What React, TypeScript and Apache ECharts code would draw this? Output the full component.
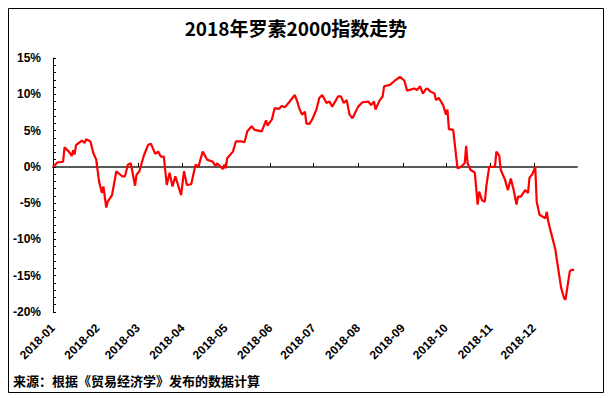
import React, { useEffect, useRef } from 'react';
import * as echarts from 'echarts';

const chartTitle = '2018年罗素2000指数走势';
const sourceNote = '来源：根据《贸易经济学》发布的数据计算';

const monthLabels = ['2018-01', '2018-02', '2018-03', '2018-04', '2018-05', '2018-06', '2018-07', '2018-08', '2018-09', '2018-10', '2018-11', '2018-12'];

const dates = [
  '2018-01-01', '2018-01-04', '2018-01-08', '2018-01-09', '2018-01-12', '2018-01-14', '2018-01-15', '2018-01-16', '2018-01-17', '2018-01-21',
  '2018-01-23', '2018-01-24', '2018-01-27', '2018-01-29', '2018-01-31', '2018-02-02', '2018-02-04', '2018-02-05', '2018-02-07', '2018-02-08',
  '2018-02-11', '2018-02-14', '2018-02-18', '2018-02-20', '2018-02-22', '2018-02-24', '2018-02-27', '2018-02-28', '2018-03-02', '2018-03-05',
  '2018-03-08', '2018-03-10', '2018-03-13', '2018-03-15', '2018-03-17', '2018-03-19', '2018-03-21', '2018-03-23', '2018-03-25', '2018-03-27',
  '2018-03-31', '2018-04-02', '2018-04-04', '2018-04-07', '2018-04-10', '2018-04-12', '2018-04-15', '2018-04-18', '2018-04-22', '2018-04-24',
  '2018-04-25', '2018-04-29', '2018-04-30', '2018-05-01', '2018-05-02', '2018-05-06', '2018-05-08', '2018-05-12', '2018-05-14', '2018-05-16',
  '2018-05-19', '2018-05-21', '2018-05-26', '2018-05-29', '2018-05-30', '2018-06-02', '2018-06-04', '2018-06-07', '2018-06-09', '2018-06-11',
  '2018-06-14', '2018-06-18', '2018-06-20', '2018-06-21', '2018-06-23', '2018-06-25', '2018-06-26', '2018-06-28', '2018-06-30', '2018-07-03',
  '2018-07-05', '2018-07-07', '2018-07-10', '2018-07-12', '2018-07-14', '2018-07-18', '2018-07-20', '2018-07-22', '2018-07-24', '2018-07-26',
  '2018-07-28', '2018-08-01', '2018-08-04', '2018-08-08', '2018-08-10', '2018-08-12', '2018-08-13', '2018-08-16', '2018-08-18', '2018-08-19',
  '2018-08-23', '2018-08-26', '2018-08-30', '2018-09-02', '2018-09-04', '2018-09-09', '2018-09-11', '2018-09-13', '2018-09-15', '2018-09-17',
  '2018-09-18', '2018-09-20', '2018-09-23', '2018-09-24', '2018-09-26', '2018-09-29', '2018-10-01', '2018-10-02', '2018-10-03', '2018-10-06',
  '2018-10-09', '2018-10-11', '2018-10-14', '2018-10-15', '2018-10-16', '2018-10-18', '2018-10-21', '2018-10-23', '2018-10-24', '2018-10-26',
  '2018-10-28', '2018-10-29', '2018-10-31', '2018-11-04', '2018-11-05', '2018-11-07', '2018-11-08', '2018-11-11', '2018-11-13', '2018-11-15',
  '2018-11-17', '2018-11-19', '2018-11-20', '2018-11-22', '2018-11-25', '2018-11-27', '2018-11-28', '2018-11-30', '2018-12-02', '2018-12-03',
  '2018-12-05', '2018-12-09', '2018-12-10', '2018-12-11', '2018-12-13', '2018-12-16', '2018-12-17', '2018-12-20', '2018-12-22', '2018-12-23',
  '2018-12-26', '2018-12-27', '2018-12-29',
];

const values = [
  0, 0.6, 0.7, 2.7, 2.1, 1.5, 2.3, 1.7, 3.0, 3.6,
  3.3, 3.8, 3.5, 1.9, 1.0, -2.0, -3.6, -2.7, -5.6, -4.8,
  -3.9, -0.6, -1.3, -1.3, 0.3, 0.5, -2.6, -1.1, -0.6, 1.5,
  3.0, 3.2, 1.8, 2.1, 1.4, 1.4, -2.5, -0.8, -2.7, -1.3,
  -3.9, -0.6, -2.5, -2.4, 0.3, 0, 2.1, 1.0, 0.7, 0.1,
  0.5, -0.3, 0.3, -0.2, 1.2, 2.1, 3.5, 3.5, 3.4, 4.9,
  5.6, 5.1, 4.9, 6.4, 5.7, 6.5, 8.1, 8.0, 8.4, 8.2,
  8.9, 9.9, 8.8, 8.1, 7.2, 7.6, 6.0, 5.9, 6.5, 7.9,
  9.5, 9.9, 8.8, 9.0, 8.3, 9.7, 9.7, 8.8, 9.2, 7.2,
  6.7, 8.3, 8.9, 9.0, 8.5, 9.0, 7.9, 9.2, 9.7, 11.1,
  11.3, 11.8, 12.4, 11.9, 10.5, 10.8, 10.6, 11.1, 10.1, 10.7,
  10.8, 10.4, 10.1, 9.2, 9.5, 8.5, 7.2, 7.9, 5.2, 5.1,
  -0.2, -0.05, 0.5, 2.9, 0.5, -0.4, -0.8, -5.2, -3.4, -4.6,
  -4.8, -2.7, 0, 0, 2.1, 1.5, -0.4, -1.8, -3.2, -1.6,
  -3.2, -5.2, -4.1, -4.1, -3.2, -3.6, -1.5, -1.0, 0, -4.8,
  -6.6, -7.1, -6.2, -7.5, -9.1, -11.4, -12.8, -16.7, -18.1, -18.3,
  -14.4, -14.2, -14.2,
];

const yMin = -20;
const yMax = 15;
const yStep = 5;
const xStart = '2018-01-01';
const xEnd = '2018-12-31';

const toTs = (d: string) => echarts.time.parse(d).getTime();

export default function App() {
  const ref = useRef<HTMLDivElement>(null);

  useEffect(() => {
    if (!ref.current) return;
    const chart = echarts.init(ref.current, null, { renderer: 'svg' });
    const monthTs = monthLabels.map((m) => toTs(m + '-01'));
    const xMin = toTs(xStart);
    const xMax = toTs(xEnd);
    const labelFont = { fontFamily: 'Liberation Sans', fontWeight: 'bold' as const, fontSize: 12, color: '#000' };

    chart.setOption({
      animation: false,
      backgroundColor: '#fff',
      grid: { left: 53, right: 37, top: 58, bottom: 86, containLabel: false },
      xAxis: [
        {
          type: 'value',
          min: xMin,
          max: xMax,
          position: 'bottom',
          axisLine: { show: false, onZero: false },
          axisTick: { show: false },
          splitLine: { show: false },
          axisLabel: {
            ...labelFont,
            rotate: 45,
            margin: 14,
            customValues: monthTs,
            formatter: (v: number) => {
              const i = monthTs.indexOf(v);
              return i >= 0 ? monthLabels[i] : '';
            },
          },
        },
        {
          type: 'value',
          min: xMin,
          max: xMax,
          position: 'bottom',
          axisLine: { show: true, onZero: true, onZeroAxisIndex: 0, lineStyle: { color: '#595959', width: 2 } },
          axisTick: { show: true, inside: true, length: 4, customValues: monthTs, lineStyle: { color: '#000', width: 1 } },
          axisLabel: { show: false },
          splitLine: { show: false },
        },
      ],
      yAxis: {
        type: 'value',
        min: yMin,
        max: yMax,
        interval: yStep,
        axisLine: { show: true, onZero: false, lineStyle: { color: '#000', width: 1 } },
        axisTick: { show: true, inside: true, length: 3, lineStyle: { color: '#000' } },
        minorTick: { show: true, splitNumber: 5, length: 3, lineStyle: { color: '#000' } },
        splitLine: { show: false },
        axisLabel: { ...labelFont, margin: 12, formatter: '{value}%' },
      },
      series: [
        {
          type: 'line',
          xAxisIndex: 0,
          yAxisIndex: 0,
          data: dates.map((d, i) => [toTs(d), values[i]]),
          showSymbol: false,
          symbol: 'none',
          lineStyle: { color: '#ff0000', width: 2.2 },
          itemStyle: { color: '#ff0000' },
          z: 5,
        },
      ],
      graphic: [
        {
          type: 'rect',
          shape: { x: 8.5, y: 8.5, width: 595, height: 384 },
          style: { fill: 'none', stroke: '#000', lineWidth: 1 },
          silent: true,
        },
        {
          type: 'text',
          x: 296,
          y: 27,
          style: {
            text: chartTitle,
            fontFamily: 'Noto Sans CJK SC',
            fontWeight: 'bold',
            fontSize: 19,
            fill: '#000',
            textAlign: 'center',
            textVerticalAlign: 'middle',
          },
        },
        {
          type: 'text',
          x: 13,
          y: 380,
          style: {
            text: sourceNote,
            fontFamily: 'Noto Sans CJK SC',
            fontWeight: 'bold',
            fontSize: 13,
            fill: '#000',
            textAlign: 'left',
            textVerticalAlign: 'middle',
          },
        },
      ],
    });

    return () => chart.dispose();
  }, []);

  return (
    <div
      ref={ref}
      style={{ position: 'fixed', left: 0, top: 0, width: 614, height: 398, background: '#fff' }}
    />
  );
}
